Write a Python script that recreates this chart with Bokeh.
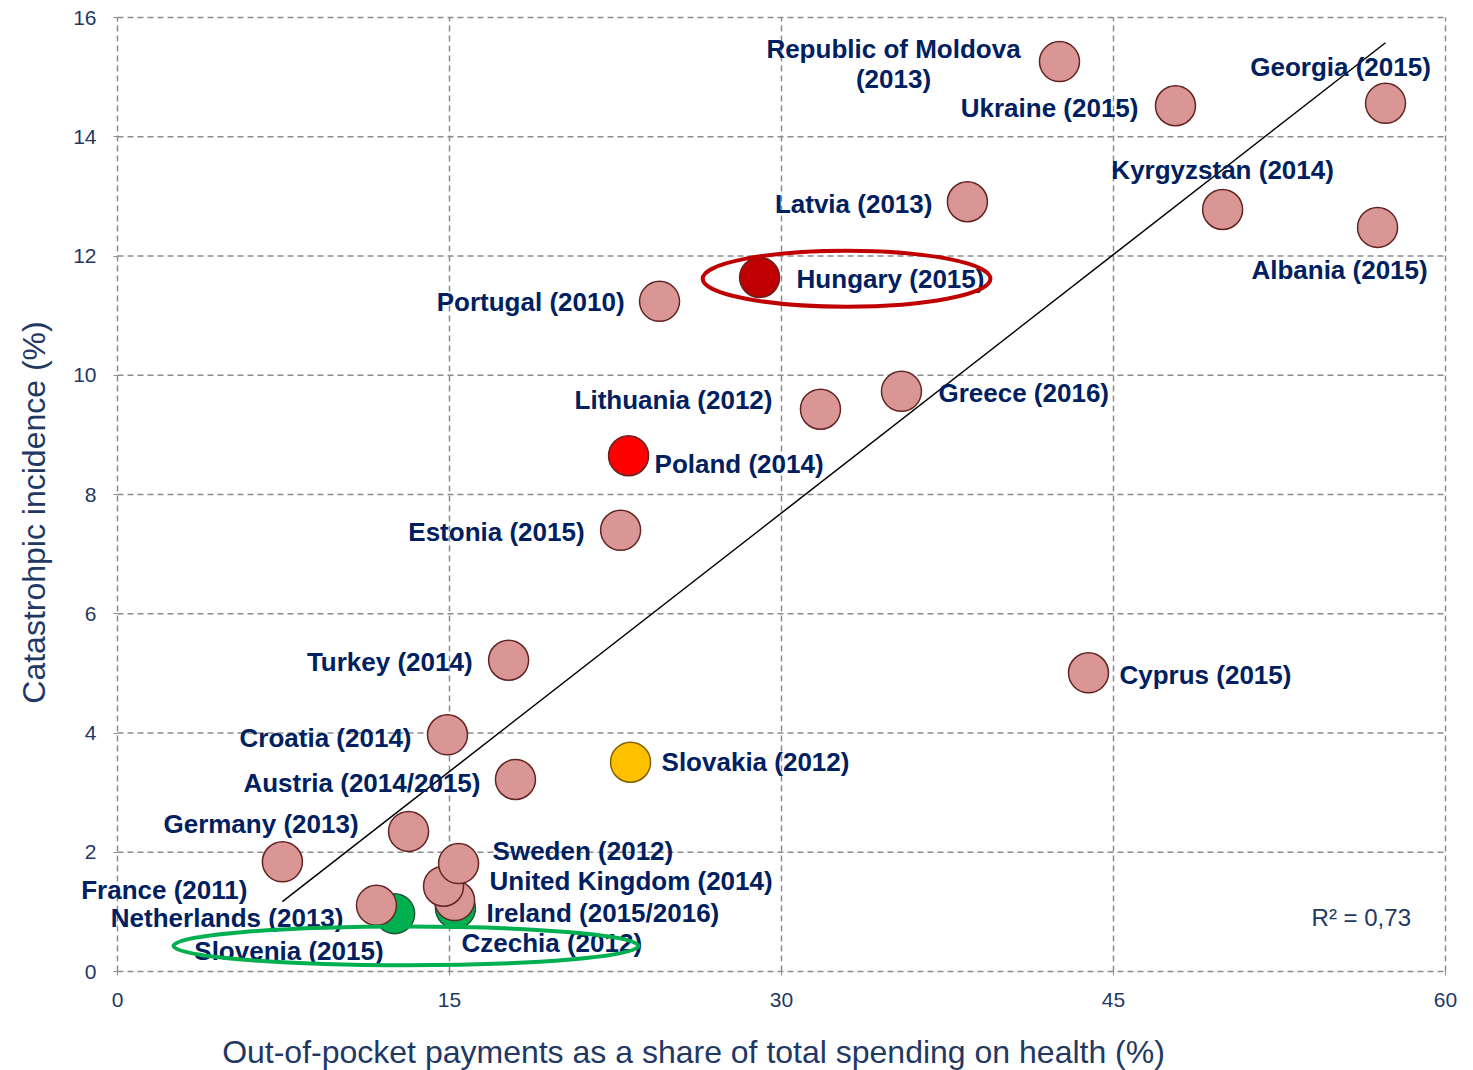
from bokeh.plotting import figure
from bokeh.models import ColumnDataSource, Label, Range1d, FixedTicker
from bokeh.core.properties import value
from bokeh.embed import file_html
from bokeh.resources import INLINE

# ---------------- data ----------------
countries = [
    "Czechia (2012)", "Slovenia (2015)", "Netherlands (2013)", "Ireland (2015/2016)",
    "United Kingdom (2014)", "Sweden (2012)", "France (2011)", "Germany (2013)",
    "Austria (2014/2015)", "Croatia (2014)", "Turkey (2014)", "Cyprus (2015)",
    "Estonia (2015)", "Lithuania (2012)", "Greece (2016)", "Portugal (2010)",
    "Latvia (2013)", "Albania (2015)", "Kyrgyzstan (2014)", "Ukraine (2015)",
    "Georgia (2015)", "Republic of Moldova\n(2013)", "Hungary (2015)",
    "Poland (2014)", "Slovakia (2012)",
]
oop_share = [15.27, 12.52, 11.70, 15.23, 14.73, 15.41, 7.45, 13.15, 17.98, 14.91,
             17.67, 43.87, 22.73, 31.76, 35.42, 24.49, 38.40, 56.93, 49.93, 47.80,
             57.29, 42.56, 29.01, 23.09, 23.18]
catastrophic = [1.06, 0.97, 1.11, 1.19, 1.43, 1.81, 1.84, 2.35, 3.22, 3.97,
                5.22, 5.01, 7.40, 9.43, 9.73, 11.24, 12.91, 12.48, 12.78, 14.52,
                14.56, 15.26, 11.64, 8.65, 3.51]
group = ["green", "green"] + ["other"] * 20 + ["hungary", "poland", "slovakia"]

x_ticks = [0, 15, 30, 45, 60]
y_ticks = [0, 2, 4, 6, 8, 10, 12, 14, 16]

# trend line (y = slope * x + intercept)
trend_slope = 0.289
trend_intercept = -0.98
r2_text = "R² = 0,73"
x_title = "Out-of-pocket payments as a share of total spending on health (%)"
y_title = "Catastrohpic incidence (%)"

# ---------------- styling / label placement ----------------
fill_map = {"green": "#00B050", "other": "#D99694", "hungary": "#C00000",
            "poland": "#FF0000", "slovakia": "#FFC000"}
line_map = {"green": "#1E5631", "other": "#632523", "hungary": "#632523",
            "poland": "#632523", "slovakia": "#7F6000"}

# (x offset px, y offset px (down), align)
label_pos = {
    "Czechia (2012)": (6, 35, "left"),
    "Slovenia (2015)": (-11, 37, "right"),
    "Netherlands (2013)": (-33, 13, "right"),
    "Ireland (2015/2016)": (32, 12, "left"),
    "United Kingdom (2014)": (46, -5, "left"),
    "Sweden (2012)": (34, -13, "left"),
    "France (2011)": (-35, 28, "right"),
    "Germany (2013)": (-50, -7, "right"),
    "Austria (2014/2015)": (-35, 3, "right"),
    "Croatia (2014)": (-36, 3, "right"),
    "Turkey (2014)": (-36, 2, "right"),
    "Cyprus (2015)": (31, 2, "left"),
    "Estonia (2015)": (-36, 2, "right"),
    "Lithuania (2012)": (-48, -9, "right"),
    "Greece (2016)": (37, 2, "left"),
    "Portugal (2010)": (-35, 1, "right"),
    "Latvia (2013)": (-35, 2, "right"),
    "Albania (2015)": (-38, 43, "center"),
    "Kyrgyzstan (2014)": (0, -39, "center"),
    "Ukraine (2015)": (-37, 2, "right"),
    "Georgia (2015)": (-45, -36, "center"),
    "Republic of Moldova\n(2013)": (-166, 2, "center"),
    "Hungary (2015)": (37, 2, "left"),
    "Poland (2014)": (26, 8, "left"),
    "Slovakia (2012)": (31, 0, "left"),
}

NAVY = "#002060"
AXIS_TXT = "#1F3864"
GRID = "#8C8C8C"
FONT = "Liberation Sans"

# canvas / frame geometry (pixels)
W, H = 1465, 1070
LEFT, RIGHT, TOP, BOTTOM = 117, 1445, 17, 971      # where 0..60 / 16..0 sit
sx = (RIGHT - LEFT) / (x_ticks[-1] - x_ticks[0])
sy = (BOTTOM - TOP) / (y_ticks[-1] - y_ticks[0])

source = ColumnDataSource(dict(
    x=oop_share, y=catastrophic, name=countries,
    fill=[fill_map[g] for g in group], line=[line_map[g] for g in group],
    xo=[label_pos[c][0] for c in countries],
    yo=[label_pos[c][1] for c in countries],
    align=[label_pos[c][2] for c in countries],
))

p = figure(width=W, height=H, output_backend="svg", toolbar_location=None,
           x_range=Range1d(-LEFT / sx, (W - LEFT) / sx),
           y_range=Range1d(-(H - BOTTOM) / sy, y_ticks[-1] + TOP / sy),
           min_border=0, min_border_left=0, min_border_right=0,
           min_border_top=0, min_border_bottom=0)
p.outline_line_color = None
p.background_fill_color = "white"
p.xgrid.visible = False
p.ygrid.visible = False

for ax, ticks in ((p.xaxis, x_ticks), (p.yaxis, y_ticks)):
    ax.ticker = FixedTicker(ticks=ticks)
    ax.fixed_location = 0
    ax.bounds = (ticks[0], ticks[-1])
    ax.axis_line_color = None
    ax.major_tick_line_color = GRID
    ax.major_tick_in = 0
    ax.major_tick_out = 4
    ax.minor_tick_line_color = None
    ax.major_label_text_font = FONT
    ax.major_label_text_font_size = "21px"
    ax.major_label_text_color = AXIS_TXT
p.xaxis.major_label_standoff = 17
p.yaxis.major_label_standoff = 17

# dashed grid (including the frame edges)
p.segment(x0=x_ticks, y0=[y_ticks[0]] * len(x_ticks), x1=x_ticks,
          y1=[y_ticks[-1]] * len(x_ticks), line_color=GRID, line_width=1.5,
          line_dash="6 4")
p.segment(x0=[x_ticks[0]] * len(y_ticks), y0=y_ticks, x1=[x_ticks[-1]] * len(y_ticks),
          y1=y_ticks, line_color=GRID, line_width=1.5, line_dash="6 4")

# axis titles (screen units: origin bottom-left of canvas)
p.add_layout(Label(x=693, y=H - 1051, x_units="screen", y_units="screen",
                   text=x_title, text_align="center", text_baseline="middle",
                   text_font=FONT, text_font_size="32px", text_color=AXIS_TXT))
p.add_layout(Label(x=33, y=H - 512, x_units="screen", y_units="screen",
                   text=y_title, text_align="center", text_baseline="middle",
                   angle=90, angle_units="deg",
                   text_font=FONT, text_font_size="32px", text_color=AXIS_TXT))

# trend line
tx = [min(oop_share), max(oop_share)]
ty = [trend_slope * v + trend_intercept for v in tx]
p.line(tx, ty, line_color="black", line_width=1.5)

# points
p.scatter("x", "y", source=source, size=40, fill_color="fill", line_color="line",
          line_width=1.5)

# labels
p.text("x", "y", text="name", source=source, x_offset="xo", y_offset="yo",
       text_align="align", text_baseline="middle",
       text_font=value(FONT), text_font_style="bold", text_font_size="26px",
       text_color=NAVY, text_line_height=1.0)

# highlight ellipses
p.ellipse(x=[32.94], y=[11.62], width=[13.0], height=[0.94], fill_color=None,
          line_color="#C00000", line_width=4)
p.ellipse(x=[13.03], y=[0.43], width=[21.0], height=[0.65], fill_color=None,
          line_color="#00B050", line_width=4)

p.add_layout(Label(x=53.95, y=0.91, text=r2_text, text_baseline="middle",
                   text_font=FONT, text_font_size="24px", text_color=AXIS_TXT))

open("out.html", "w").write(file_html(p, INLINE))
